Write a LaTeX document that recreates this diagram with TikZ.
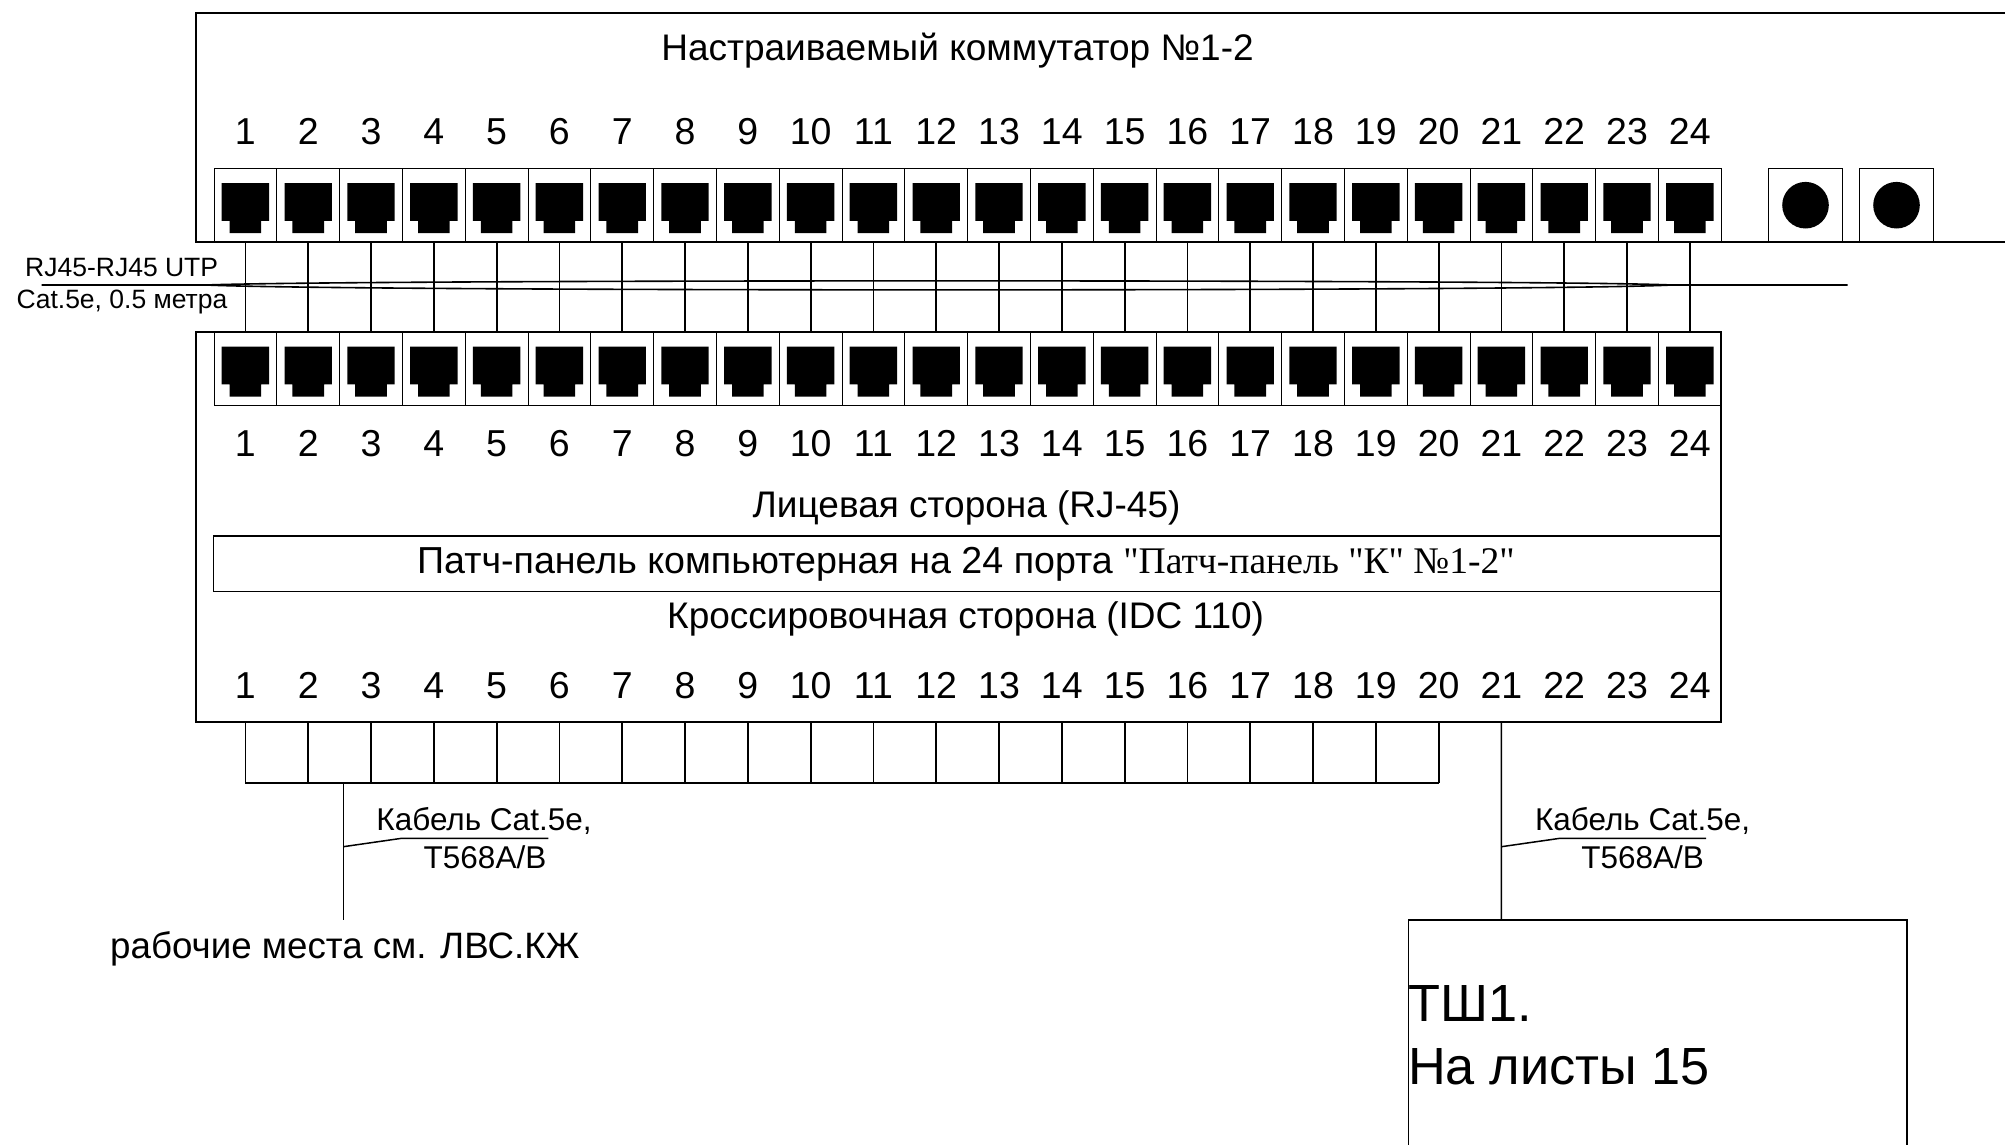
\documentclass[tikz,border=0pt]{standalone}
\usepackage{fontspec}
\setmainfont{Liberation Sans}
\newfontfamily\serifcyr{Liberation Serif}
\tikzset{
  wire/.style={line width=1.8pt},
  portbox/.style={draw, line width=1pt, minimum width=62.8pt, minimum height=73.7pt, inner sep=0pt},
  holebox/.style={draw, line width=1pt, minimum width=74.4pt, minimum height=73.7pt, inner sep=0pt},
  num/.style={anchor=base, inner sep=0pt, font=\fontsize{37.5}{42}\selectfont},
  caption/.style={anchor=base, inner sep=0pt, font=\fontsize{37}{42}\selectfont},
  small/.style={anchor=base, inner sep=0pt, font=\fontsize{26.5}{30}\selectfont},
  cablename/.style={anchor=base, inner sep=0pt, font=\fontsize{31.5}{36}\selectfont},
  big/.style={anchor=base west, inner sep=0pt, font=\fontsize{52.3}{60}\selectfont},
  jack/.pic={\fill (-23.7,-22) -- (23.7,-22) -- (23.7,15.7) -- (15.8,15.7) -- (15.8,28)
    -- (-15.8,28) -- (-15.8,15.7) -- (-23.7,15.7) -- cycle;}
}
\begin{document}
\begin{tikzpicture}[x=1pt, y=-1pt]
  \useasboundingbox (0,0) rectangle (2005,1145);
  % switch
  \coordinate (swtop) at (2005,13);
  \coordinate (swbot) at (2005,242);
  \draw[wire] (swtop) -| (196,242) -- (swbot);
  \node[caption] (swtitle) at (957.5,61) {Настраиваемый коммутатор №1-2};
  \node[holebox] (hole1) at (1805.5,205.2) {};
  \node[holebox] (hole2) at (1896.5,205.2) {};
  \fill (hole1.center) circle (23.3);
  \fill (hole2.center) circle (23.3);
  % patch panel
  \node[draw, wire, minimum width=1524.7pt, minimum height=390pt, inner sep=0pt] (panel) at (958.35,526.7) {};
  \node[draw, line width=1.5pt, minimum width=1507.2pt, minimum height=55.7pt, inner sep=0pt] (strip) at (967.1,563.85) {};
  \node[caption] (front) at (966.6,517.5) {Лицевая сторона (RJ-45)};
  \node[caption, font=\fontsize{37.6}{42}\selectfont] (stripname) at (966,573.5) {Патч-панель компьютерная на 24 порта {\serifcyr "Патч-панель "К" №1-2"}};
  \node[caption] (back) at (965.6,628.7) {Кроссировочная сторона (IDC 110)};
  % ports
  \foreach \i in {1,...,24} {
    \pgfmathsetmacro{\x}{245.4+62.8*(\i-1)}
    \node[portbox] (sw\i) at (\x,205.2) {};
    \node[portbox] (pp\i) at (\x,368.7) {};
    \pic at (sw\i.center) {jack};
    \pic at (pp\i.center) {jack};
    \draw[wire] (sw\i.south) -- (pp\i.north);
    \node[num] (swnum\i) at (\x,145) {\i};
    \node[num] (ppnum\i) at (\x,456.5) {\i};
    \node[num] (idcnum\i) at (\x,698.3) {\i};
    \coordinate (pin\i) at (\x,721.7);
    \coordinate (tap\i) at (\x,782.7);
  }
  % punch-down side
  \foreach \i in {1,...,20} \draw[wire] (pin\i) -- (tap\i);
  \draw[wire] (tap1) -- (tap20);
  % cable bundle
  \coordinate (bundleL) at (41.7,285);
  \coordinate (lensL) at (206,285);
  \coordinate (lensR) at (1671.7,285);
  \coordinate (bundleR) at (1847.7,285);
  \draw[line width=1.6pt] (bundleL) -- (lensL) .. controls (350,279.5) and (1550,279.5) .. (lensR) -- (bundleR);
  \draw[line width=1.6pt] (lensL) .. controls (350,291.5) and (1550,291.5) .. (lensR);
  \node[small] (cordA) at (121.7,276) {RJ45-RJ45 UTP};
  \node[small] (cordB) at (122,308) {Cat.5e, 0.5 метра};
  % cable to the workplaces
  \coordinate (dropA) at (343.3,782.7);
  \coordinate (dropB) at (343.3,920);
  \coordinate (kneeA) at (343.3,846.7);
  \coordinate (kneeB) at (401.7,838.3);
  \coordinate (kneeC) at (548.3,838.3);
  \draw[line width=1.5pt] (dropA) -- (dropB);
  \draw[line width=1.5pt] (kneeA) -- (kneeB) -- (kneeC);
  \node[cablename] (cableA) at (484,830) {Кабель Cat.5e,};
  \node[cablename] (typeA) at (485,868) {T568A/B};
  \node[caption, anchor=base west, font=\fontsize{36.7}{42}\selectfont] (places) at (110,958.3) {рабочие места см. ЛВС.КЖ};
  % cable to the cabinet
  \coordinate (shtop) at (1501.4,920);
  \coordinate (knee2A) at (1501.4,846.7);
  \coordinate (knee2B) at (1560,838.3);
  \coordinate (knee2C) at (1706,838.3);
  \draw[line width=1.5pt] (pin21) -- (shtop);
  \draw[line width=1.5pt] (knee2A) -- (knee2B) -- (knee2C);
  \node[cablename] (cableB) at (1642.6,830) {Кабель Cat.5e,};
  \node[cablename] (typeB) at (1642.6,868) {T568A/B};
  \draw[line width=1.5pt] (1408.5,1145) |- (1907,920) -- (1907,1145);
  \node[big] (shname) at (1408,1021.7) {ТШ1.};
  \node[big] (shnote) at (1408,1084) {На листы 15};
\end{tikzpicture}
\end{document}
